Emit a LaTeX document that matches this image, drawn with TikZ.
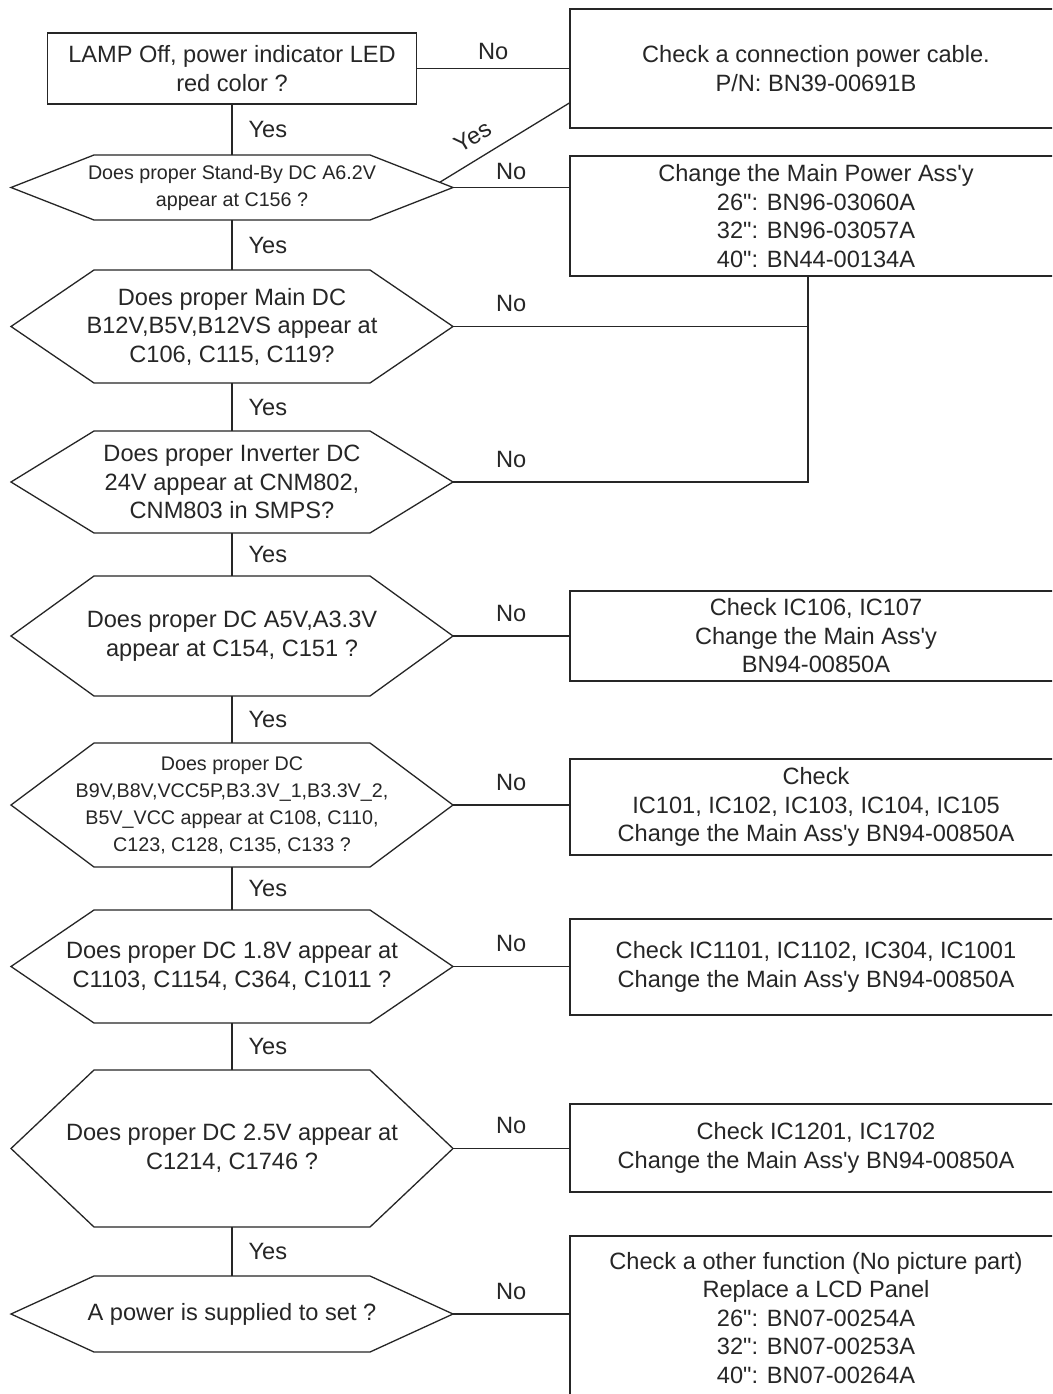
\documentclass[tikz,border=0pt]{standalone}
\usepackage{fontspec}
\setmainfont{Liberation Sans}
\usetikzlibrary{calc}

\newcommand{\BigFont}{\fontsize{23.6pt}{28.5pt}\selectfont}
\newcommand{\SmallFont}{\fontsize{19.7pt}{27pt}\selectfont}
\newcommand{\Ap}{\textquotesingle}
\newcommand{\In}{\textquotedbl}
\newcommand{\HexOutline}[1]{%
  \draw ([xshift=-138pt]#1.north) -- ([xshift=138pt]#1.north) coordinate (#1-ne)
    -- ([xshift=221pt]#1.center) coordinate (#1-e)
    -- ([xshift=138pt]#1.south) -- ([xshift=-138pt]#1.south)
    -- ([xshift=-221pt]#1.center) -- cycle;}

\tikzstyle{BoxStyle}=[draw, inner sep=0pt, align=center]
\tikzstyle{HexStyle}=[inner sep=0pt, outer sep=0pt, align=center, minimum width=276pt]
\tikzstyle{YesStyle}=[right=16pt, inner sep=0pt]
\tikzset{NoStyle/.style={above=#1, inner sep=0pt}, NoStyle/.default=14pt}

\begin{document}
\begin{tikzpicture}[x=1pt,y=-1pt,line width=1.3pt,color=black!85,font=\BigFont]
  \useasboundingbox[fill=white] (0,0) rectangle (1052,1394);
  \clip (0,0) rectangle (1052,1394);
  % questions
  \node[BoxStyle,minimum width=369pt,minimum height=71pt] (lamp) at (232,68.5) {LAMP Off, power indicator LED\\red color ?};
  \node[HexStyle,minimum height=65pt,font=\SmallFont] (sby) at (232,187.5) {Does proper Stand-By DC A6.2V\\appear at C156 ?};
  \node[HexStyle,minimum height=113pt] (maindc) at (232,326.5) {Does proper Main DC\\B12V,B5V,B12VS appear at\\C106, C115, C119?};
  \node[HexStyle,minimum height=102pt] (inv) at (232,482) {Does proper Inverter DC\\24V appear at CNM802,\\CNM803 in SMPS?};
  \node[HexStyle,minimum height=120pt] (a5v) at (232,636) {Does proper DC A5V,A3.3V\\appear at C154, C151 ?};
  \node[HexStyle,minimum height=124pt,font=\SmallFont] (b9v) at (232,805) {Does proper DC\\B9V,B8V,VCC5P,B3.3V\_1,B3.3V\_2,\\B5V\_VCC appear at C108, C110,\\C123, C128, C135, C133 ?};
  \node[HexStyle,minimum height=113pt] (v18) at (232,966.5) {Does proper DC 1.8V appear at\\C1103, C1154, C364, C1011 ?};
  \node[HexStyle,minimum height=157pt] (v25) at (232,1148.5) {Does proper DC 2.5V appear at\\C1214, C1746 ?};
  \node[HexStyle,minimum height=76pt] (pwr) at (232,1314) {A power is supplied to set ?};
  \HexOutline{sby}
  \HexOutline{maindc}
  \HexOutline{inv}
  \HexOutline{a5v}
  \HexOutline{b9v}
  \HexOutline{v18}
  \HexOutline{v25}
  \HexOutline{pwr}
  % actions
  \node[BoxStyle,minimum width=492pt,minimum height=119pt] (cable) at (816,68.5) {Check a connection power cable.\\P/N: BN39-00691B};
  \node[BoxStyle,minimum width=492pt,minimum height=120pt] (smps) at (816,216) {Change the Main Power Ass\Ap y\\26\In: BN96-03060A\\32\In: BN96-03057A\\40\In: BN44-00134A};
  \node[BoxStyle,minimum width=492pt,minimum height=90pt] (ic106) at (816,636) {Check IC106, IC107\\Change the Main Ass\Ap y\\BN94-00850A};
  \node[BoxStyle,minimum width=492pt,minimum height=96pt] (ic101) at (816,807) {Check\\IC101, IC102, IC103, IC104, IC105\\Change the Main Ass\Ap y BN94-00850A};
  \node[BoxStyle,minimum width=492pt,minimum height=96pt] (ic1101) at (816,967) {Check IC1101, IC1102, IC304, IC1001\\Change the Main Ass\Ap y BN94-00850A};
  \node[BoxStyle,minimum width=492pt,minimum height=88pt] (ic1201) at (816,1148) {Check IC1201, IC1702\\Change the Main Ass\Ap y BN94-00850A};
  \node[BoxStyle,minimum width=492pt,minimum height=164pt] (panel) at (816,1318) {Check a other function (No picture part)\\Replace a LCD Panel\\26\In: BN07-00254A\\32\In: BN07-00253A\\40\In: BN07-00264A};
  \coordinate (join) at ([xshift=-8pt]smps.south);
  \coordinate (yes-a) at ($(sby-ne)!0.84!(sby-e)$);
  \coordinate (yes-b) at ([yshift=-34.5pt]cable.west);
  % yes path
  \draw (lamp) -- node[YesStyle]{Yes} (sby);
  \draw (sby) -- node[YesStyle]{Yes} (maindc);
  \draw (maindc) -- node[YesStyle]{Yes} (inv);
  \draw (inv) -- node[YesStyle]{Yes} (a5v);
  \draw (a5v) -- node[YesStyle]{Yes} (b9v);
  \draw (b9v) -- node[YesStyle]{Yes} (v18);
  \draw (v18) -- node[YesStyle]{Yes} (v25);
  \draw (v25) -- node[YesStyle]{Yes} (pwr);
  \draw (yes-a) -- (yes-b);
  \path ([xshift=-6.7pt,yshift=11.1pt]yes-a) -- node[pos=0.34,sloped,anchor=south,inner sep=0pt]{Yes} ([xshift=-6.7pt,yshift=11.1pt]yes-b);
  % no path
  \draw (lamp) -- node[NoStyle=8pt]{No} (cable);
  \draw (sby-e) -- node[NoStyle=7pt]{No} (sby-e -| smps.west);
  \draw (maindc-e) -- node[NoStyle]{No} (maindc-e -| smps.west) -- (maindc-e -| join);
  \draw (inv-e) -- node[NoStyle]{No} (inv-e -| smps.west) -- (inv-e -| join) -- (join);
  \draw (a5v-e) -- node[NoStyle]{No} (a5v-e -| ic106.west);
  \draw (b9v-e) -- node[NoStyle]{No} (b9v-e -| ic101.west);
  \draw (v18-e) -- node[NoStyle]{No} (v18-e -| ic1101.west);
  \draw (v25-e) -- node[NoStyle]{No} (v25-e -| ic1201.west);
  \draw (pwr-e) -- node[NoStyle]{No} (pwr-e -| panel.west);
\end{tikzpicture}
\end{document}
